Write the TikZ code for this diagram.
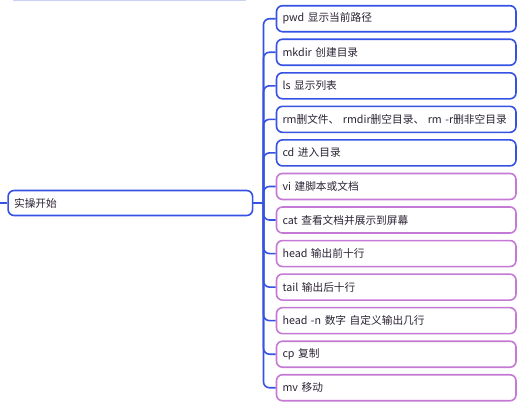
\documentclass[tikz,border=0pt]{standalone}
\usepackage{fontspec}
\setmainfont{Noto Sans CJK SC}
\usetikzlibrary{positioning}
\definecolor{mapblue}{HTML}{3652E3}
\definecolor{mappurple}{HTML}{C47AD4}
\definecolor{fadeblue}{HTML}{C9D1F7}
\definecolor{inkdark}{HTML}{2A2233}
\tikzset{
    leaf/.style={draw, line width=1.6pt, rounded corners=6pt, anchor=west,
        minimum height=26pt, text width=227.5pt, inner xsep=6pt, align=left,
        font=\fontsize{10.7}{12}\selectfont, text=inkdark},
    rootbox/.style={leaf, draw=mapblue, text width=232.5pt, minimum height=25pt},
    link/.style={draw=mapblue, line width=1.6pt, rounded corners=6pt},
}
\begin{document}
\begin{tikzpicture}[x=1pt,y=-1pt]
    \useasboundingbox (0,0) rectangle (526,405);
    \draw[fadeblue, line width=1.5pt] (13,0.5) -- (246,0.5);

    \node[rootbox] (root) at (7.3,203) {实操开始};
    \coordinate (stub) at (0,203);
    \coordinate (trunk) at (263.5,203);
    \draw[link] (stub) -- (root.west);
    \draw[link] (root.east) -- (trunk);

    \foreach \txt/\col [count=\i from 0] in {
        pwd 显示当前路径/mapblue,
        mkdir 创建目录/mapblue,
        ls 显示列表/mapblue,
        rm删文件、 rmdir删空目录、 rm -r删非空目录/mapblue,
        cd 进入目录/mapblue,
        vi 建脚本或文档/mappurple,
        cat 查看文档并展示到屏幕/mappurple,
        head 输出前十行/mappurple,
        tail 输出后十行/mappurple,
        head -n 数字 自定义输出几行/mappurple,
        cp 复制/mappurple,
        mv 移动/mappurple} {
        \pgfmathsetmacro{\yy}{18.7+33.55*\i}
        \node[leaf, draw=\col] (c\i) at (275.7,\yy) {\txt};
        \draw[link] (trunk) |- (c\i.west);
    }
\end{tikzpicture}
\end{document}
